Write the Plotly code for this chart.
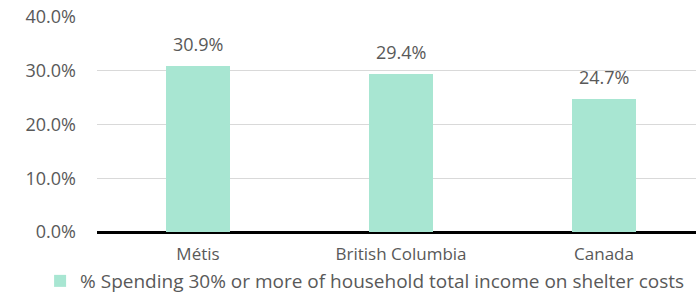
import plotly.graph_objects as go

categories = ["Métis", "British Columbia", "Canada"]
values = [30.9, 29.4, 24.7]
labels = ["30.9%", "29.4%", "24.7%"]
series_name = "% Spending 30% or more of household total income on shelter costs"
tick_vals = [0, 10, 20, 30, 40]
tick_text = ["0.0%", "10.0%", "20.0%", "30.0%", "40.0%"]

font = "Open Sans"
grey = "#595959"
xpos = list(range(len(categories)))

fig = go.Figure()
fig.add_trace(go.Bar(
    x=xpos, y=values, name=series_name,
    marker=dict(color="#A8E6D2", line=dict(width=0)),
    width=0.315, showlegend=True, hoverinfo="skip",
))

for xi, v, t in zip(xpos, values, labels):
    fig.add_annotation(x=xi, y=v, text=t, showarrow=False,
                       yanchor="bottom", yshift=8,
                       font=dict(family=font, size=18, color=grey))

fig.update_layout(
    width=696, height=293,
    margin=dict(l=97, r=0, t=17, b=61, autoexpand=False),
    paper_bgcolor="white", plot_bgcolor="white",
    font=dict(family=font, size=18, color=grey),
    xaxis=dict(range=[-0.4975, 2.4532], tickvals=xpos, ticktext=categories,
               showgrid=False, zeroline=False, showline=False, ticks="",
               ticklabelstandoff=10,
               tickfont=dict(family=font, size=17, color=grey)),
    yaxis=dict(range=[0, 40], tickvals=tick_vals, ticktext=tick_text,
               showgrid=True, gridcolor="#D9D9D9", gridwidth=1,
               zeroline=True, zerolinecolor="black", zerolinewidth=3,
               showline=False, ticks="", ticklabelstandoff=20,
               ticklabeloverflow="allow",
               tickfont=dict(family=font, size=18, color=grey)),
    legend=dict(orientation="h", x=-0.095, xanchor="left", y=-0.228, yanchor="middle",
                font=dict(family=font, size=19, color=grey),
                itemwidth=30, bgcolor="rgba(0,0,0,0)"),
    bargap=0,
)

fig.write_html("out.html",
               config={"displayModeBar": False, "staticPlot": True},
               post_script="document.body.style.margin='0';document.body.style.overflow='hidden';")
